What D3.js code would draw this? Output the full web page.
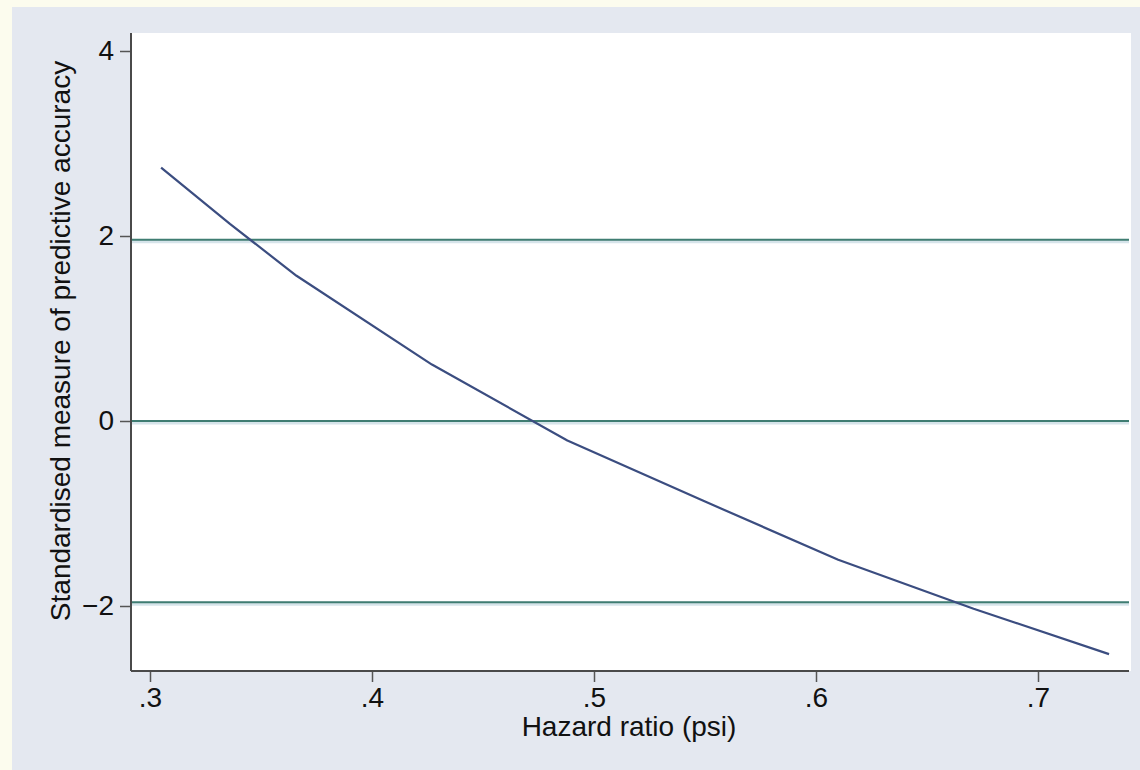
<!DOCTYPE html>
<html>
<head>
<meta charset="utf-8">
<script src="https://cdn.jsdelivr.net/npm/d3@7"></script>
<style>
  body { margin: 0; background: #fcfcee; }
  svg { display: block; font-family: "Liberation Sans", Arial, sans-serif; }
</style>
</head>
<body>
<div id="chart"></div>
<script>
// curve
const hazard = [0.305, 0.336, 0.366, 0.427, 0.488, 0.549, 0.610, 0.671, 0.732];
const accuracy = [2.74, 2.13, 1.57, 0.61, -0.21, -0.86, -1.50, -2.03, -2.52];
// reference lines
const refLines = [-1.96, 0, 1.96];
// ticks
const xTicks = [0.3, 0.4, 0.5, 0.6, 0.7];
const xTickLabels = [".3", ".4", ".5", ".6", ".7"];
const yTicks = [-2, 0, 2, 4];
const yTickLabels = ["\u22122", "0", "2", "4"];

const w = 1140, h = 770;
const plot = {left: 131, right: 1131, top: 33, bottom: 671};
const fontSize = 28;

const xScale = d3.scaleLinear().domain([0.3, 0.7]).range([150, 1038]);
const yScale = d3.scaleLinear().domain([-2, 4]).range([606, 51]);

const svg = d3.select("#chart").append("svg")
  .attr("width", w).attr("height", h);

// outer grey-blue background
svg.append("rect")
  .attr("x", 12).attr("y", 7)
  .attr("width", w - 12).attr("height", h - 7)
  .attr("fill", "#e4e8f0");

// plot area
svg.append("rect")
  .attr("x", plot.left).attr("y", plot.top)
  .attr("width", plot.right - plot.left).attr("height", plot.bottom - plot.top)
  .attr("fill", "#ffffff");

// horizontal reference lines with a faint halo
svg.selectAll("line.halo")
  .data(refLines).enter().append("line")
  .attr("class", "halo")
  .attr("x1", plot.left).attr("x2", plot.right - 2)
  .attr("y1", d => yScale(d) + 1.5).attr("y2", d => yScale(d) + 1.5)
  .attr("stroke", "#d6e4ea").attr("stroke-width", 4);

svg.selectAll("line.ref")
  .data(refLines).enter().append("line")
  .attr("class", "ref")
  .attr("x1", plot.left).attr("x2", plot.right - 2)
  .attr("y1", d => yScale(d)).attr("y2", d => yScale(d))
  .attr("stroke", "#3f7d72").attr("stroke-width", 2);

// the curve
const pts = hazard.map((x, i) => [x, accuracy[i]]);
svg.append("path")
  .datum(pts)
  .attr("fill", "none")
  .attr("stroke", "#3b4d80")
  .attr("stroke-width", 2.2)
  .attr("stroke-linejoin", "round")
  .attr("d", d3.line().x(d => xScale(d[0])).y(d => yScale(d[1])));

// x axis
const xAxis = d3.axisBottom(xScale)
  .tickValues(xTicks)
  .tickFormat((d, i) => xTickLabels[i])
  .tickSizeInner(11).tickSizeOuter(0).tickPadding(5);
const gx = svg.append("g")
  .attr("transform", "translate(0," + plot.bottom + ")")
  .call(xAxis);
gx.select(".domain").remove();
gx.selectAll(".tick line").attr("stroke", "#555").attr("stroke-width", 1.5);
gx.selectAll(".tick text").attr("font-size", fontSize).attr("fill", "#111")
  .attr("font-family", "Liberation Sans, Arial, sans-serif");

// y axis
const yAxis = d3.axisLeft(yScale)
  .tickValues(yTicks)
  .tickFormat((d, i) => yTickLabels[i])
  .tickSizeInner(11).tickSizeOuter(0).tickPadding(6);
const gy = svg.append("g")
  .attr("transform", "translate(" + plot.left + ",0)")
  .call(yAxis);
gy.select(".domain").remove();
gy.selectAll(".tick line").attr("stroke", "#555").attr("stroke-width", 1.5);
gy.selectAll(".tick text").attr("font-size", fontSize).attr("fill", "#111")
  .attr("font-family", "Liberation Sans, Arial, sans-serif");

// axis lines
svg.append("line")
  .attr("x1", plot.left).attr("x2", plot.left)
  .attr("y1", plot.top).attr("y2", plot.bottom)
  .attr("stroke", "#4a4a4a").attr("stroke-width", 2);
svg.append("line")
  .attr("x1", plot.left).attr("x2", plot.right - 2)
  .attr("y1", plot.bottom).attr("y2", plot.bottom)
  .attr("stroke", "#4a4a4a").attr("stroke-width", 2);

// axis titles
svg.append("text")
  .attr("x", 629)
  .attr("y", 736)
  .attr("text-anchor", "middle")
  .attr("font-size", fontSize).attr("fill", "#111")
  .text("Hazard ratio (psi)");

svg.append("text")
  .attr("transform", "translate(70,341) rotate(-90)")
  .attr("text-anchor", "middle")
  .attr("font-size", fontSize).attr("fill", "#111")
  .text("Standardised measure of predictive accuracy");
</script>
</body>
</html>
